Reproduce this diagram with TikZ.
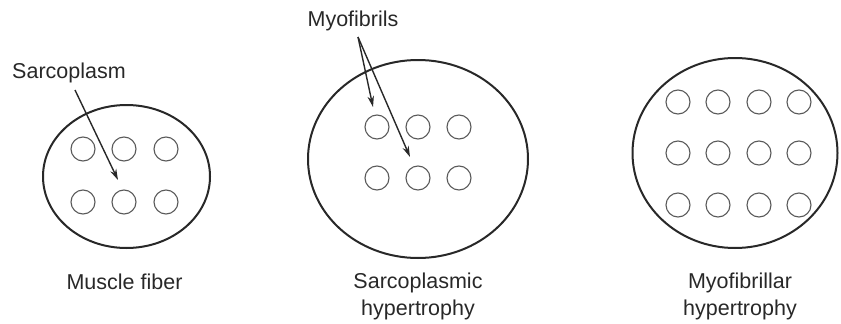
\documentclass[tikz,border=0pt]{standalone}
\usepackage{fontspec}
\setmainfont{Liberation Sans}
\usetikzlibrary{shapes.geometric,arrows.meta}
\definecolor{ink}{RGB}{40,40,40}
\definecolor{fib}{RGB}{90,90,90}
\tikzset{
  cell/.style={draw=ink, line width=2pt, ellipse, inner sep=0pt},
  fibril/.style={draw=fib, line width=1.1pt, circle, minimum size=24pt, inner sep=0pt},
  lbl/.style={text=ink, font=\fontsize{21.5}{27}\selectfont, anchor=base, align=center, inner sep=0pt},
  pointer/.style={draw=ink, line width=1.4pt, -{Stealth[length=11pt,width=6.5pt]}}
}
\begin{document}
\begin{tikzpicture}[x=1pt,y=-1pt]
\useasboundingbox (0,0) rectangle (841,324);
% cells
\node[cell, minimum width=167pt, minimum height=143pt] (c1) at (126.5,176.5) {};
\node[cell, minimum width=220pt, minimum height=198pt] (c2) at (418,159) {};
\node[cell, minimum width=205pt, minimum height=190pt] (c3) at (735,153) {};
% fibrils cell 1
\foreach \i/\x in {1/83,2/124,3/166}{
  \node[fibril] (a1\i) at (\x,149) {};
  \node[fibril] (a2\i) at (\x,202) {};
}
% fibrils cell 2
\foreach \i/\x in {1/377,2/418,3/459}{
  \node[fibril] (b1\i) at (\x,127) {};
  \node[fibril] (b2\i) at (\x,178) {};
}
% fibrils cell 3
\foreach \i/\x in {1/678,2/718,3/759,4/799}{
  \node[fibril] (d1\i) at (\x,102) {};
  \node[fibril] (d2\i) at (\x,153) {};
  \node[fibril] (d3\i) at (\x,205) {};
}
% labels
\node[lbl] (sarc) at (69,78) {Sarcoplasm};
\node[lbl] (myo) at (353,27) {Myofibrils};
\node[lbl] (l1) at (124.5,289) {Muscle fiber};
\node[lbl] (l2) at (418,315) {Sarcoplasmic\\hypertrophy};
\node[lbl] (l3) at (740,315) {Myofibrillar\\hypertrophy};
% pointers
\coordinate (s0) at (75,90);
\coordinate (s1) at (118,180);
\coordinate (m0) at (358,37);
\coordinate (m1) at (373,107);
\coordinate (m2) at (410,157);
\draw[pointer] (s0) -- (s1);
\draw[pointer] (m0) -- (m1);
\draw[pointer] (m0) -- (m2);
\end{tikzpicture}
\end{document}
